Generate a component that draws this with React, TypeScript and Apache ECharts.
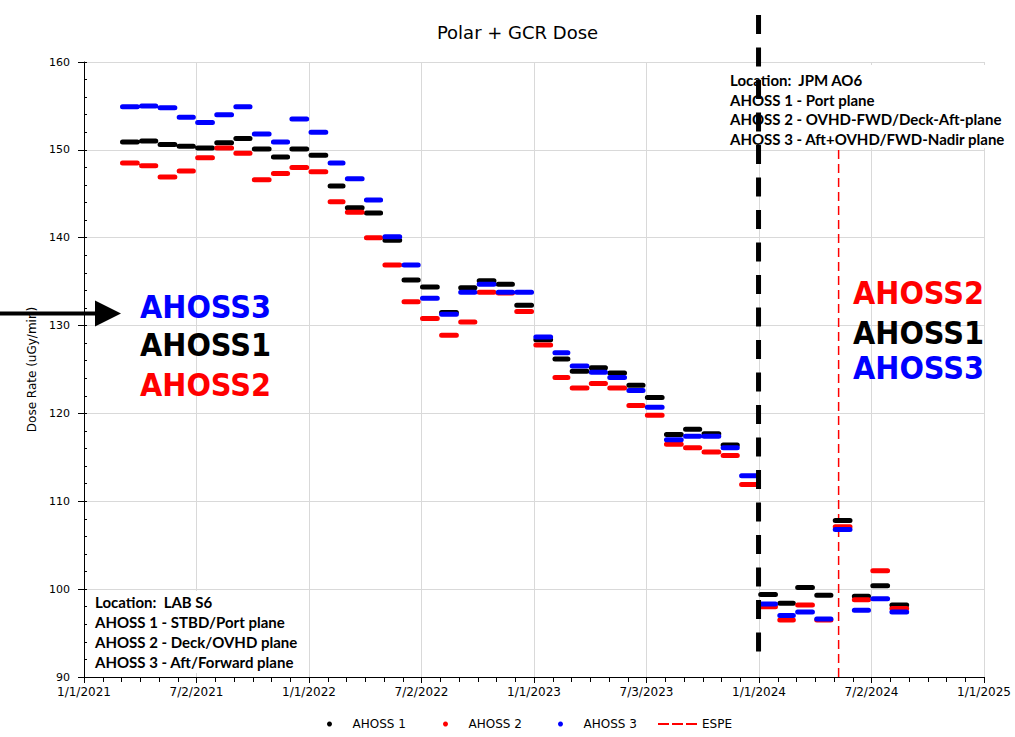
import { useEffect, useRef } from "react";
import * as echarts from "echarts";

// Monthly mean dose rates (uGy/min) per detector, one value per calendar month.
const months = [
  "2021-03", "2021-04", "2021-05", "2021-06", "2021-07", "2021-08", "2021-09", "2021-10", "2021-11", "2021-12",
  "2022-01", "2022-02", "2022-03", "2022-04", "2022-05", "2022-06", "2022-07", "2022-08", "2022-09", "2022-10", "2022-11", "2022-12",
  "2023-01", "2023-02", "2023-03", "2023-04", "2023-05", "2023-06", "2023-07", "2023-08", "2023-09", "2023-10", "2023-11", "2023-12",
  "2024-01", "2024-02", "2024-03", "2024-04", "2024-05", "2024-06", "2024-07", "2024-08",
];

const ahoss1: (number | null)[] = [
  150.9, 151.0, 150.6, 150.4, 150.2, 150.8, 151.3, 150.1, 149.2, 150.1,
  149.4, 145.9, 143.4, 142.8, 139.7, 135.2, 134.4, 131.5, 134.3, 135.1, 134.7, 132.3,
  128.4, 126.2, 124.8, 125.2, 124.6, 123.2, 121.8, 117.6, 118.2, 117.7, 116.4, null,
  99.4, 98.4, 100.2, 99.3, 107.8, 99.2, 100.4, 98.2,
];

const ahoss2: (number | null)[] = [
  148.5, 148.2, 146.9, 147.6, 149.1, 150.2, 149.6, 146.6, 147.3, 148.0,
  147.5, 144.1, 142.9, 140.0, 136.9, 132.7, 130.8, 128.9, 130.4, 133.8, 133.7, 131.6,
  127.8, 124.1, 122.9, 123.4, 122.9, 120.9, 119.8, 116.5, 116.1, 115.6, 115.2, 111.9,
  98.0, 96.5, 98.2, 96.5, 107.1, 98.8, 102.1, 97.8,
];

const ahoss3: (number | null)[] = [
  154.9, 155.0, 154.8, 153.7, 153.1, 154.0, 154.9, 151.8, 150.9, 153.5,
  152.0, 148.5, 146.7, 144.3, 140.1, 136.9, 133.1, 131.3, 133.8, 134.7, 133.8, 133.8,
  128.7, 126.9, 125.4, 124.7, 124.1, 122.6, 120.7, 117.0, 117.4, 117.4, 116.1, 112.9,
  98.3, 97.0, 97.4, 96.6, 106.8, 97.6, 98.9, 97.4,
];

const xStart = "2021-01-01";
const xEnd = "2025-01-01";
const xTickLabels = [
  "1/1/2021", "7/2/2021", "1/1/2022", "7/2/2022", "1/1/2023",
  "7/3/2023", "1/1/2024", "7/2/2024", "1/1/2025",
];
const yMin = 90;
const yMax = 160;
const yStep = 10;

const espeDate = "2024-05-10";
const relocationDate = "2024-01-01";

const labNotes = [
  "Location:  LAB S6",
  "AHOSS 1 - STBD/Port plane",
  "AHOSS 2 - Deck/OVHD plane",
  "AHOSS 3 - Aft/Forward plane",
];
const jpmNotes = [
  "Location:  JPM AO6",
  "AHOSS 1 - Port plane",
  "AHOSS 2 - OVHD-FWD/Deck-Aft-plane",
  "AHOSS 3 - Aft+OVHD/FWD-Nadir plane",
];
const labOrder = [
  { text: "AHOSS3", color: "#0000ff" },
  { text: "AHOSS1", color: "#000000" },
  { text: "AHOSS2", color: "#ff0000" },
];
const jpmOrder = [
  { text: "AHOSS2", color: "#ff0000" },
  { text: "AHOSS1", color: "#000000" },
  { text: "AHOSS3", color: "#0000ff" },
];

const DAY = 86400000;
const parse = (s: string) => {
  const [y, m, d] = s.split("-").map(Number);
  return Date.UTC(y, m - 1, d || 1);
};
const ORIGIN = parse(xStart);
const dayOf = (s: string) => (parse(s) - ORIGIN) / DAY;
const xSpan = dayOf(xEnd);
const xInterval = xSpan / (xTickLabels.length - 1);

// Each monthly mean is drawn as a short horizontal bar spanning its month.
function monthBars(values: (number | null)[]) {
  const out: (number | string)[][] = [];
  months.forEach((m, i) => {
    const v = values[i];
    if (v == null) return;
    const [y, mo] = m.split("-").map(Number);
    const s = (Date.UTC(y, mo - 1, 1) - ORIGIN) / DAY;
    const e = (Date.UTC(y, mo, 1) - ORIGIN) / DAY;
    out.push([s + 3.5, v], [e - 3.5, v], [e, "-"]);
  });
  return out;
}

const FONT = "DejaVu Sans";
const NOTE_FONT = "Lato";
const BIG_FONT = '"DejaVu Sans Condensed", "DejaVu Sans", sans-serif';

function barSeries(name: string, color: string, values: (number | null)[]) {
  return {
    name,
    type: "line",
    data: monthBars(values),
    color,
    symbol: "none",
    showSymbol: false,
    connectNulls: false,
    silent: true,
    z: 3,
    lineStyle: { width: 5, cap: "round", color },
  };
}

// One legend block per entry so each sits at its own spot along the bottom.
function legendItem(name: string, icon: string, left: number, itemWidth: number) {
  return {
    left,
    top: 718,
    padding: 0,
    itemWidth,
    itemHeight: 5,
    selectedMode: false,
    itemStyle: { borderWidth: 0 },
    textStyle: { fontSize: 12, color: "#000", fontFamily: FONT },
    data: [{ name, icon }],
  };
}

export default function App() {
  const ref = useRef<HTMLDivElement>(null);

  useEffect(() => {
    const chart = echarts.init(ref.current!, null, { renderer: "svg" });
    const tickColor = "#000";
    chart.setOption({
      animation: false,
      backgroundColor: "#fff",
      grid: { left: 84, right: 31, top: 62, bottom: 60 },
      legend: [
        legendItem("AHOSS 1", "circle", 327, 36),
        legendItem("AHOSS 2", "circle", 443, 36),
        legendItem("AHOSS 3", "circle", 558, 36),
        legendItem("ESPE", "path://M0 0H11V2H0Z M14 0H25V2H14Z M28 0H39V2H28Z", 658, 39),
      ],
      xAxis: [
        {
          type: "value",
          min: 0,
          max: xSpan,
          interval: xInterval,
          axisLine: { show: true, onZero: false, lineStyle: { color: tickColor } },
          axisTick: { show: true, length: 6, lineStyle: { color: tickColor } },
          minorTick: { show: true, splitNumber: 6, length: 5, lineStyle: { color: tickColor } },
          axisLabel: {
            formatter: (v: number) => xTickLabels[Math.round(v / xInterval)] ?? "",
            fontSize: 12,
            color: "#000",
            fontFamily: FONT,
            margin: 9,
            showMinLabel: true,
            showMaxLabel: true,
            hideOverlap: false,
          },
          splitLine: { show: true, lineStyle: { color: "#d9d9d9" } },
        },
      ],
      yAxis: [
        {
          type: "value",
          min: yMin,
          max: yMax,
          interval: yStep,
          position: "left",
          axisLine: { show: true, onZero: false, lineStyle: { color: tickColor } },
          axisTick: { show: true, length: 6, lineStyle: { color: tickColor } },
          axisLabel: { fontSize: 11, color: "#000", fontFamily: FONT, margin: 14 },
          splitLine: { show: true, lineStyle: { color: "#d9d9d9" } },
          name: "Dose Rate (uGy/min)",
          nameLocation: "middle",
          nameGap: 31,
          nameRotate: 90,
          nameTextStyle: { fontSize: 12, color: "#000", fontFamily: FONT },
        },
        {
          type: "value",
          min: yMin,
          max: yMax,
          interval: yStep,
          position: "left",
          axisLine: { show: false },
          axisTick: { show: true, inside: true, length: 3, lineStyle: { color: tickColor } },
          minorTick: { show: true, splitNumber: 5, length: 3, lineStyle: { color: tickColor } },
          axisLabel: { show: false },
          splitLine: { show: false },
        },
      ],
      series: [
        barSeries("AHOSS 1", "#000000", ahoss1),
        barSeries("AHOSS 2", "#ff0000", ahoss2),
        barSeries("AHOSS 3", "#0000ff", ahoss3),
        {
          name: "ESPE",
          type: "line",
          color: "#ff0000",
          symbol: "none",
          silent: true,
          z: 1,
          data: [
            [dayOf(espeDate), yMin],
            [dayOf(espeDate), yMax],
          ],
          lineStyle: { width: 1.5, type: [9, 5], color: "#ff0000" },
        },
      ],
    });

    const bx = chart.convertToPixel({ xAxisIndex: 0 }, dayOf(relocationDate)) as number;

    const noteText = (t: string, x: number, y: number) => ({
      type: "text",
      x,
      y,
      z: 4,
      style: {
        text: t,
        fill: "#000",
        fontSize: 15,
        fontWeight: "bold",
        fontFamily: NOTE_FONT,
        align: "left",
        textAlign: "left",
        verticalAlign: "middle",
        textVerticalAlign: "middle",
      },
    });
    const bigText = (t: string, color: string, x: number, y: number) => ({
      type: "text",
      x,
      y,
      z: 4,
      style: {
        text: t,
        fill: color,
        fontSize: 32,
        fontWeight: "bold",
        fontFamily: BIG_FONT,
        align: "left",
        textAlign: "left",
        verticalAlign: "middle",
        textVerticalAlign: "middle",
      },
    });

    const labY = [602, 622, 642, 662];
    const jpmY = [80, 99.5, 119.3, 138.5];
    const leftBigY = [307, 345, 385];
    const rightBigY = [293, 333, 368];

    chart.setOption({
      graphic: [
        {
          type: "text",
          x: 517.5,
          y: 32,
          style: {
            text: "Polar + GCR Dose",
            fill: "#000",
            fontSize: 18,
            fontFamily: FONT,
            align: "center",
            textAlign: "center",
            verticalAlign: "middle",
            textVerticalAlign: "middle",
          },
        },
        { type: "rect", z: 2, shape: { x: 89, y: 591, width: 213, height: 82 }, style: { fill: "#fff" } },
        { type: "rect", z: 2, shape: { x: 726, y: 65, width: 282, height: 83 }, style: { fill: "#fff" } },
        ...labNotes.map((t, i) => noteText(t, 95, labY[i])),
        ...jpmNotes.map((t, i) => noteText(t, 730, jpmY[i])),
        ...labOrder.map((o, i) => bigText(o.text, o.color, 140, leftBigY[i])),
        ...jpmOrder.map((o, i) => bigText(o.text, o.color, 853, rightBigY[i])),
        {
          type: "line",
          z: 10,
          shape: { x1: 0, y1: 313.5, x2: 97, y2: 313.5 },
          style: { stroke: "#000", lineWidth: 4 },
        },
        {
          type: "polygon",
          z: 10,
          shape: { points: [[95, 300.5], [121, 313.5], [95, 326.5]] },
          style: { fill: "#000" },
        },
        {
          type: "line",
          z: 10,
          shape: { x1: bx, y1: 15, x2: bx, y2: 652 },
          style: { stroke: "#000", lineWidth: 5, lineDash: [19, 13.5] },
        },
      ],
    });

    return () => chart.dispose();
  }, []);

  return (
    <div
      ref={ref}
      style={{ position: "absolute", left: 0, top: 0, width: 1015, height: 737, background: "#fff" }}
    />
  );
}
